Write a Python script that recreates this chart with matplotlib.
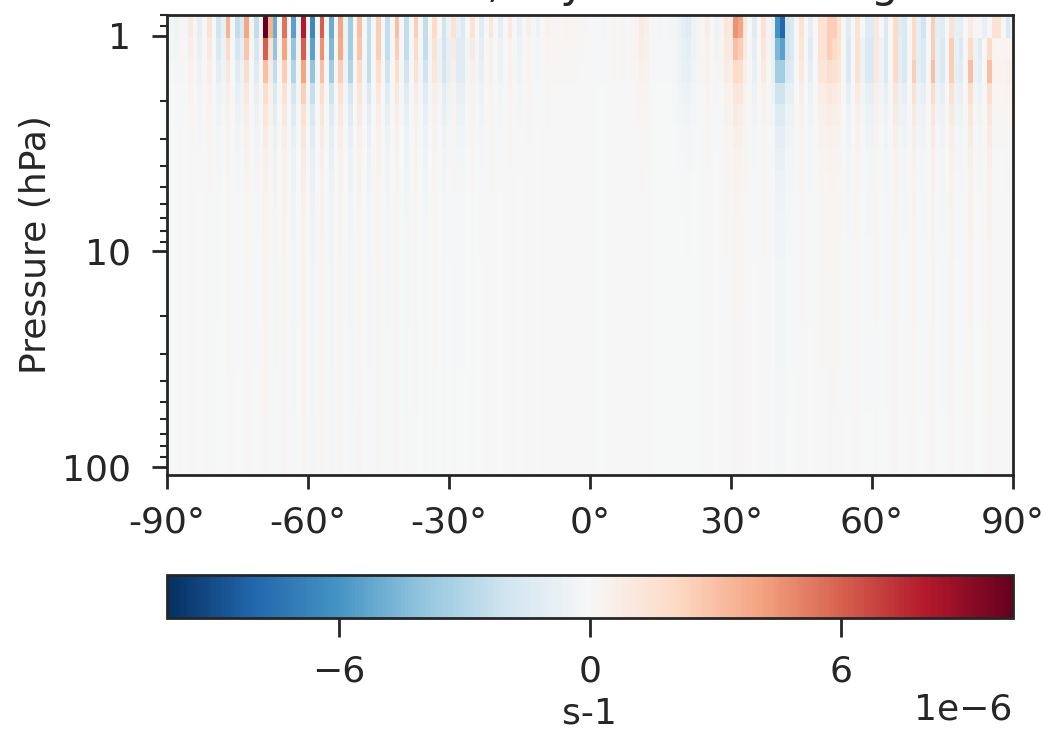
import matplotlib
matplotlib.use("Agg")
import matplotlib.pyplot as plt
import numpy as np
from matplotlib.ticker import ScalarFormatter, NullFormatter

# latitude centres (1 deg grid) and pressure cell edges (hPa)
lat = np.arange(-90, 91)
p_edges = [0.80, 1.02, 1.30, 1.65, 2.08, 2.62, 3.32, 4.2, 5.3, 6.7, 8.5,
           10.8, 13.7, 17.3, 21.9, 27.7, 35.0, 44.3, 56.0, 70.9, 89.7, 109.0]

# values in 1e-6 s-1, top three levels
row0 = [-0.3, -0.2, -0.4, 0.2, -0.2, 1.0, 0.1, -1.0, 0.0, 1.5,
        0.0, -2.0, -0.8, 3.5, 0.0, -2.5, -1.5, 4.0, 0.2, -2.5,
        0.2, 10.1, 3.5, -5.0, 0.0, 5.5, 0.2, -5.5, -0.5, 8.0,
        0.5, -6.5, 0.0, 6.0, 0.0, -5.0, 0.0, 4.0, -0.5, -3.5,
        0.0, 3.0, 0.0, -2.5, 0.0, 2.5, 0.0, -2.5, 0.0, 3.0,
        0.0, -2.5, 0.0, 2.5, 0.0, -2.5, 0.0, 2.0, 0.0, -2.0,
        -0.5, 1.5, -0.8, -1.5, 0.0, 1.5, 0.0, -1.2, 0.0, 1.2,
        0.0, -1.0, 0.0, 1.0, 0.0, -0.8, 0.0, 0.6, 0.0, -0.5,
        0.0, 0.5, 0.1, 0.2, 0.2, 0.3, 0.2, 0.2, 0.1, 0.1,
        0.0, 0.0, -0.1, -0.2, 0.0, 0.1, -0.1, 0.2, 0.0, 0.1,
        0.3, 0.8, 0.6, 0.0, -0.1, -0.2, 0.0, -0.2, -0.3, -0.6,
        -1.0, -1.2, -0.6, -0.3, 0.2, 0.7, 0.0, -0.6, 0.3, 1.2,
        1.0, 4.5, 4.0, 1.0, 0.0, -1.2, 0.0, 1.5, 0.3, -0.8,
        -6.0, -8.0, -2.0, -1.5, 0.0, 1.5, 0.0, -1.0, 0.0, 1.5,
        1.5, 2.5, 2.5, 1.5, 0.0, -1.2, 0.0, 1.5, 0.0, -1.2,
        -1.2, 1.0, 0.0, -1.5, 0.0, 2.0, -1.2, -1.5, 0.0, 2.0,
        -1.0, -2.0, 0.0, 2.5, -1.0, -1.2, 0.0, 1.5, -0.8, -1.0,
        0.0, 0.8, 0.1, 0.1, -0.8, 0.0, 1.5, 1.5, 0.0, -1.5, -0.5]

row1 = [-0.2, -0.2, -0.3, 0.1, -0.2, 0.7, 0.1, -0.8, 0.0, 1.0,
        0.0, -1.5, -0.6, 2.0, 0.0, -1.8, -1.0, 2.8, 0.1, -1.8,
        0.1, 6.0, 1.5, -4.0, 0.0, 4.0, 0.1, -4.0, -0.4, 6.0,
        0.3, -5.5, 0.0, 4.5, 0.0, -4.5, 0.0, 3.8, -0.5, -3.5,
        0.0, 2.8, 0.0, -2.5, 0.0, 2.5, 0.0, -2.5, 0.0, 2.5,
        0.0, -2.5, 0.0, 2.0, -0.3, -2.5, -0.3, 1.5, -0.5, -2.0,
        -0.8, 0.8, -1.2, -1.2, -0.3, 0.8, -0.2, -1.0, 0.0, 0.6,
        0.0, -0.6, 0.0, 0.5, 0.0, -0.5, 0.0, 0.3, 0.0, -0.3,
        0.0, 0.3, 0.1, 0.1, 0.1, 0.2, 0.1, 0.1, 0.1, 0.0,
        0.0, 0.0, -0.1, -0.1, 0.0, 0.1, 0.0, 0.1, 0.0, 0.1,
        0.3, 0.7, 0.5, 0.0, -0.1, -0.1, -0.1, -0.1, -0.2, -0.5,
        -0.8, -1.0, -0.5, -0.3, 0.1, 0.5, 0.0, -0.4, 0.2, 1.0,
        0.8, 3.0, 2.5, 0.8, 0.0, -1.0, 0.0, 1.2, 0.3, -0.8,
        -4.5, -5.5, -2.0, -1.5, 0.0, 1.2, 0.0, -1.2, 0.0, 1.5,
        1.5, 2.5, 2.0, 1.5, 0.0, -1.5, 0.0, 1.5, -0.5, -1.5,
        -1.5, 1.0, -0.5, -1.5, 0.0, 2.0, -1.0, -1.5, 0.0, 2.0,
        -1.0, -1.5, 0.0, 2.5, -0.8, -1.5, 0.0, 2.5, -0.8, -1.5,
        0.0, 2.0, -0.5, -1.2, 0.0, 2.0, 0.3, 0.2, 0.2, 0.2, 0.2]

row2 = [-0.2, -0.1, -0.2, 0.1, -0.1, 0.5, 0.0, -0.6, 0.0, 0.6,
        0.0, -1.0, -0.4, 1.2, 0.0, -1.2, -0.6, 1.8, 0.0, -1.2,
        0.0, 3.0, 0.8, -2.5, 0.0, 2.5, 0.0, -3.0, -0.3, 4.0,
        0.2, -4.0, 0.0, 3.0, 0.0, -3.5, 0.0, 2.5, -0.5, -3.0,
        0.0, 2.0, -0.2, -2.5, 0.0, 1.8, 0.0, -2.0, 0.0, 1.8,
        -0.2, -2.0, 0.0, 1.5, -0.3, -2.0, -0.3, 1.2, -0.5, -1.8,
        -0.8, 0.6, -1.2, -1.2, -0.3, 0.6, -0.3, -0.8, 0.0, 0.5,
        0.0, -0.5, 0.0, 0.4, 0.0, -0.4, 0.0, 0.3, 0.0, -0.2,
        0.0, 0.2, 0.1, 0.1, 0.1, 0.1, 0.1, 0.1, 0.0, 0.0,
        0.0, 0.0, -0.1, -0.1, 0.0, 0.1, 0.0, 0.1, 0.0, 0.1,
        0.2, 0.5, 0.4, 0.0, -0.1, -0.1, -0.1, -0.1, -0.2, -0.4,
        -0.7, -0.8, -0.4, -0.2, 0.1, 0.4, 0.0, -0.3, 0.1, 0.8,
        0.6, 2.0, 1.8, 0.6, 0.0, -0.8, 0.0, 0.8, 0.2, -0.8,
        -3.5, -3.5, -1.5, -1.2, 0.0, 1.0, 0.0, -1.0, 0.0, 1.2,
        1.2, 1.8, 1.5, 1.2, 0.0, -1.5, 0.0, 1.5, -0.5, -1.5,
        -1.5, 1.0, -0.5, -1.5, 0.0, 2.0, -1.0, -1.5, 0.0, 2.5,
        -1.0, -1.5, 0.0, 3.0, -0.8, -1.5, 0.0, 2.5, -0.8, -1.2,
        0.0, 3.0, -0.5, -1.0, 0.0, 3.0, 0.3, 0.3, 0.3, 0.5, 0.4]

# how strong the lower levels look relative to the third level
lower_fade = [0.6, 0.4, 0.28, 0.2, 0.16, 0.13, 0.11, 0.10, 0.09,
              0.08, 0.08, 0.07, 0.07, 0.06, 0.06, 0.05, 0.05, 0.05]

field = [row0, row1, row2] + [[f * v for v in row2] for f in lower_fade]
field = np.array(field) * 1e-6

lat_edges = np.append(lat - 0.5, lat[-1] + 0.5)

ink = "#262626"
plt.rcParams["font.family"] = ["DejaVu Sans"]
plt.rcParams["font.size"] = 26
plt.rcParams["text.color"] = ink
plt.rcParams["axes.labelcolor"] = ink
plt.rcParams["xtick.color"] = ink
plt.rcParams["ytick.color"] = ink
plt.rcParams["axes.edgecolor"] = ink

fig = plt.figure(figsize=(10.43, 7.36), dpi=100)
ax = fig.add_axes([0.160, 0.3546, 0.811, 0.625])
cax = fig.add_axes([0.160, 0.1603, 0.811, 0.0584])

mesh = ax.pcolormesh(lat_edges, p_edges, field, cmap="RdBu_r",
                     vmin=-1.01e-5, vmax=1.01e-5)
ax.set_yscale("log")
ax.set_ylim(109, 0.8)
ax.set_xlim(-90, 90)
ax.set_xticks([-90, -60, -30, 0, 30, 60, 90])
ax.set_xticklabels(["-90°", "-60°", "-30°", "0°", "30°", "60°", "90°"])
ax.yaxis.set_major_formatter(ScalarFormatter())
ax.yaxis.set_minor_formatter(NullFormatter())
ax.set_ylabel("Pressure (hPa)", labelpad=6)
ax.set_title("Residuals, dry model forcing", pad=13)
ax.tick_params(axis="x", which="major", length=10, width=2, pad=12)
ax.tick_params(axis="y", which="major", length=11, width=2, pad=15)
ax.tick_params(which="minor", length=5, width=1.5)
for s in ax.spines.values():
    s.set_linewidth(2)

cb = fig.colorbar(mesh, cax=cax, orientation="horizontal")
cb.set_ticks([-6e-6, 0, 6e-6])
cb.set_label("s-1", labelpad=6)
cb.outline.set_linewidth(2)
cb.ax.tick_params(length=14, width=2, pad=12)

fig.savefig("out.png", dpi=100)
